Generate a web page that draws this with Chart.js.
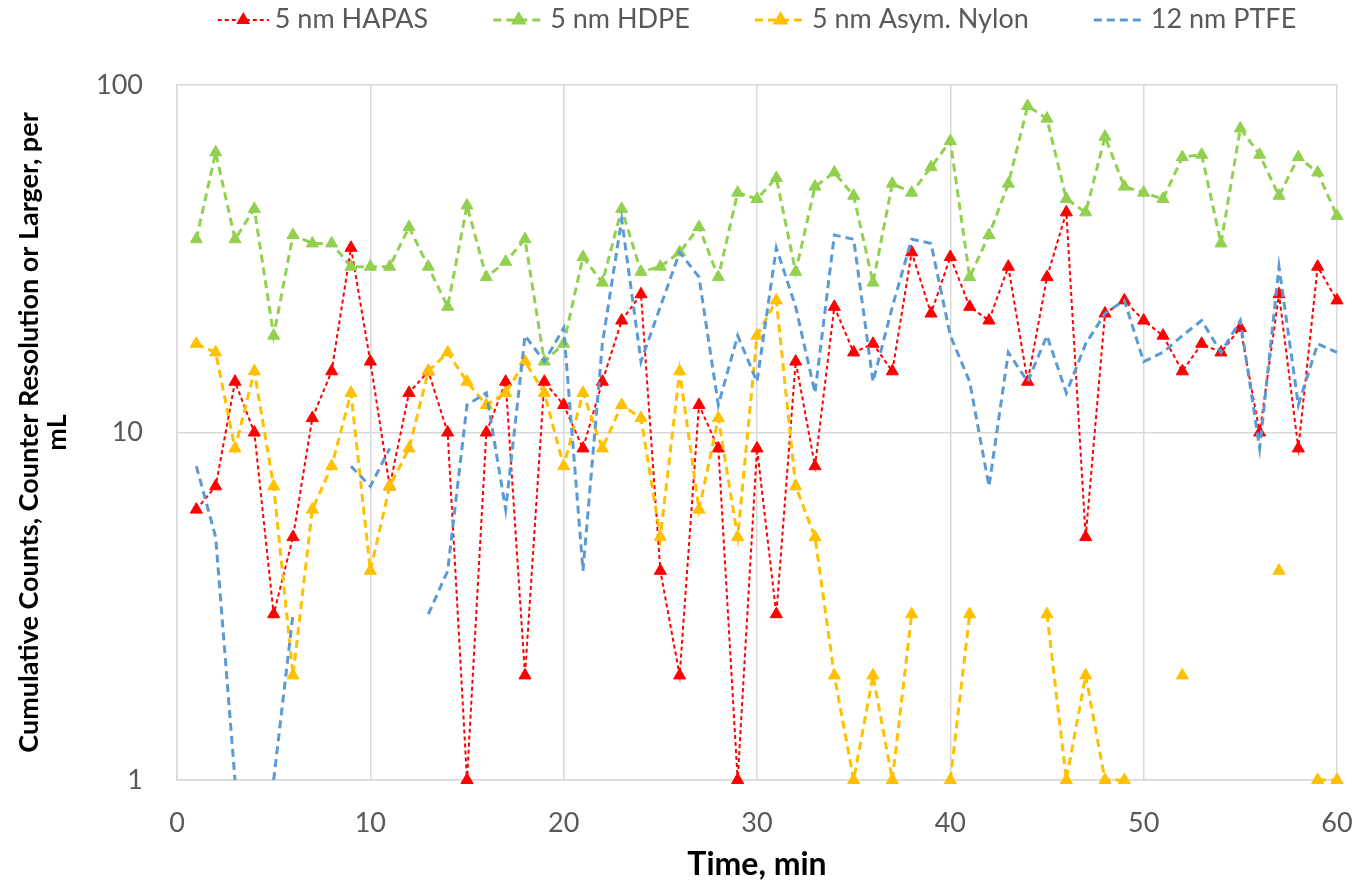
<!DOCTYPE html>
<html>
<head>
<meta charset="utf-8">
<title>Cumulative Counts vs Time</title>
<script src="https://cdn.jsdelivr.net/npm/chart.js@4.4.1/dist/chart.umd.min.js"></script>
<style>
    html, body { margin: 0; padding: 0; background: #ffffff; }
    #wrap { width: 1354px; height: 885px; position: relative; }
</style>
</head>
<body>
<div id="wrap"><canvas id="countsChart"></canvas></div>
<script>
//#region Data

// Time, min (x values).
const minutes = [1, 2, 3, 4, 5, 6, 7, 8, 9, 10, 11, 12, 13, 14, 15, 16, 17, 18, 19, 20,
    21, 22, 23, 24, 25, 26, 27, 28, 29, 30, 31, 32, 33, 34, 35, 36, 37, 38, 39, 40,
    41, 42, 43, 44, 45, 46, 47, 48, 49, 50, 51, 52, 53, 54, 55, 56, 57, 58, 59, 60];

// Cumulative counts per mL, null = nothing plotted (zero on a log axis).
const hapas5 = [6, 7, 14, 10, 3, 5, 11, 15, 34, 16, 7, 13, 15, 10, 1, 10, 14, 2, 14, 12,
    9, 14, 21, 25, 4, 2, 12, 9, 1, 9, 3, 16, 8, 23, 17, 18, 15, 33, 22, 32,
    23, 21, 30, 14, 28, 43, 5, 22, 24, 21, 19, 15, 18, 17, 20, 10, 25, 9, 30, 24];

const hdpe5 = [36, 64, 36, 44, 19, 37, 35, 35, 30, 30, 30, 39, 30, 23, 45, 28, 31, 36, 16, 18,
    32, 27, 44, 29, 30, 33, 39, 28, 49, 47, 54, 29, 51, 56, 48, 27, 52, 49, 58, 69,
    28, 37, 52, 87, 80, 47, 43, 71, 51, 49, 47, 62, 63, 35, 75, 63, 48, 62, 56, 42];

const nylon5 = [18, 17, 9, 15, 7, 2, 6, 8, 13, 4, 7, 9, 15, 17, 14, 12, 13, 16, 13, 8,
    13, 9, 12, 11, 5, 15, 6, 11, 5, 19, 24, 7, 5, 2, 1, 2, 1, 3, null, 1,
    3, null, null, null, 3, 1, 2, 1, 1, null, null, 2, null, null, null, null, 4, null, 1, 1];

const ptfe12 = [8, 5, 1, null, 1, 3, null, null, 8, 7, 9, null, 3, 4, 12, 13, 6, 19, 16, 20,
    4, 18, 41, 16, 23, 33, 28, 12, 19, 14, 34, 23, 13, 37, 36, 14, 23, 36, 35, 19,
    14, 7, 17, 14, 19, 13, 18, 22, 24, 16, 17, 19, 21, 17, 21, 9, 30, 12, 18, 17];

// Axis ticks.
const xTicks = [0, 10, 20, 30, 40, 50, 60];
const yTicks = [1, 10, 100];

const seriesNames = ['5 nm HAPAS', '5 nm HDPE', '5 nm Asym. Nylon', '12 nm PTFE'];

//#endregion

//#region Chart

const FONT = 'Lato, "Open Sans", sans-serif';
const GRID = '#d9d9d9';
const TEXT = '#595959';

// Pair the x values with one series.
function toPoints(values) {
    return minutes.map((m, i) => ({ x: m, y: values[i] }));
}

// Build one line dataset.
function makeSeries(name, values, color, dash, width, marker, order) {
    return {
        label: name,
        data: toPoints(values),
        borderColor: color,
        backgroundColor: color,
        borderWidth: width,
        borderDash: dash,
        pointStyle: marker ? 'triangle' : false,
        pointRadius: marker ? 7 : 0,
        pointHoverRadius: marker ? 7 : 0,
        pointBorderWidth: 1,
        pointBorderColor: color,
        pointBackgroundColor: color,
        spanGaps: false,
        tension: 0,
        clip: false,
        order: order
    };
}

// Draws the legend like the spreadsheet one: dashed sample line with the marker.
const sampleLegend = {
    id: 'sampleLegend',
    afterDraw(chart) {
        const ctx = chart.ctx;
        const area = chart.chartArea;
        const sampleW = 51, gapText = 6, gapItem = 65;
        ctx.save();
        ctx.font = '27px ' + FONT;
        const items = chart.data.datasets.map(ds => ({ ds, w: ctx.measureText(ds.label).width }));
        const total = items.reduce((s, it) => s + sampleW + gapText + it.w, 0) + gapItem * (items.length - 1);
        let x = (area.left + area.right) / 2 - total / 2;
        const y = 19;
        items.forEach(it => {
            const ds = it.ds;
            ctx.strokeStyle = ds.borderColor;
            ctx.lineWidth = ds.borderWidth;
            ctx.setLineDash(ds.borderDash);
            ctx.beginPath();
            ctx.moveTo(x, y + 1);
            ctx.lineTo(x + sampleW, y + 1);
            ctx.stroke();
            ctx.setLineDash([]);
            if (ds.pointStyle) {
                Chart.helpers.drawPoint(ctx, { pointStyle: 'triangle', radius: 6, borderWidth: 1, rotation: 0 }, x + sampleW / 2, y + 1);
                ctx.fillStyle = ds.borderColor;
                ctx.fill();
            }
            ctx.fillStyle = TEXT;
            ctx.textAlign = 'left';
            ctx.textBaseline = 'middle';
            ctx.fillText(ds.label, x + sampleW + gapText, y);
            x += sampleW + gapText + it.w + gapItem;
        });
        ctx.restore();
    }
};

const data = {
    datasets: [
        makeSeries(seriesNames[0], hapas5, '#ff0000', [4, 3], 2, true, 3),
        makeSeries(seriesNames[1], hdpe5, '#92d050', [8, 5], 3, true, 2),
        makeSeries(seriesNames[2], nylon5, '#ffc000', [8, 5], 3, true, 1),
        makeSeries(seriesNames[3], ptfe12, '#5b9bd5', [8, 5], 3, false, 0)
    ]
};

const config = {
    type: 'line',
    data: data,
    plugins: [sampleLegend],
    options: {
        animation: false,
        responsive: true,
        maintainAspectRatio: false,
        layout: {
            padding: { top: 85, right: 17, bottom: 0, left: 0 }
        },
        plugins: {
            legend: { display: false },
            tooltip: { enabled: false }
        },
        scales: {
            x: {
                type: 'linear',
                min: 0,
                max: 60,
                afterBuildTicks: scale => { scale.ticks = xTicks.map(v => ({ value: v })); },
                afterFit: scale => {
                    scale.height = 105;
                    scale.paddingLeft = 0;
                    scale.paddingRight = 0;
                },
                grid: { color: GRID, lineWidth: 1.5, drawTicks: false },
                border: { color: GRID, width: 1.5 },
                ticks: {
                    color: TEXT,
                    padding: 27,
                    maxRotation: 0,
                    font: { family: FONT, size: 27 }
                },
                title: {
                    display: true,
                    text: 'Time, min',
                    color: '#000000',
                    padding: { top: 0, bottom: 1 },
                    font: { family: FONT, size: 32, weight: 'bold' }
                }
            },
            y: {
                type: 'logarithmic',
                min: 1,
                max: 100,
                afterBuildTicks: scale => { scale.ticks = yTicks.map(v => ({ value: v })); },
                afterFit: scale => {
                    scale.width = 177;
                    scale.paddingTop = 0;
                    scale.paddingBottom = 0;
                },
                grid: { color: GRID, lineWidth: 1.5, drawTicks: false },
                border: { color: GRID, width: 1.5 },
                ticks: {
                    color: TEXT,
                    padding: 34,
                    font: { family: FONT, size: 27 },
                    callback: value => String(value)
                },
                title: {
                    display: true,
                    text: ['Cumulative Counts, Counter Resolution or Larger, per', 'mL'],
                    color: '#000000',
                    padding: { top: 15, bottom: 0 },
                    font: { family: FONT, size: 27, weight: 'bold', lineHeight: 1.05 }
                }
            }
        }
    }
};

const chart = new Chart(document.getElementById('countsChart'), config);

//#endregion
</script>
</body>
</html>
